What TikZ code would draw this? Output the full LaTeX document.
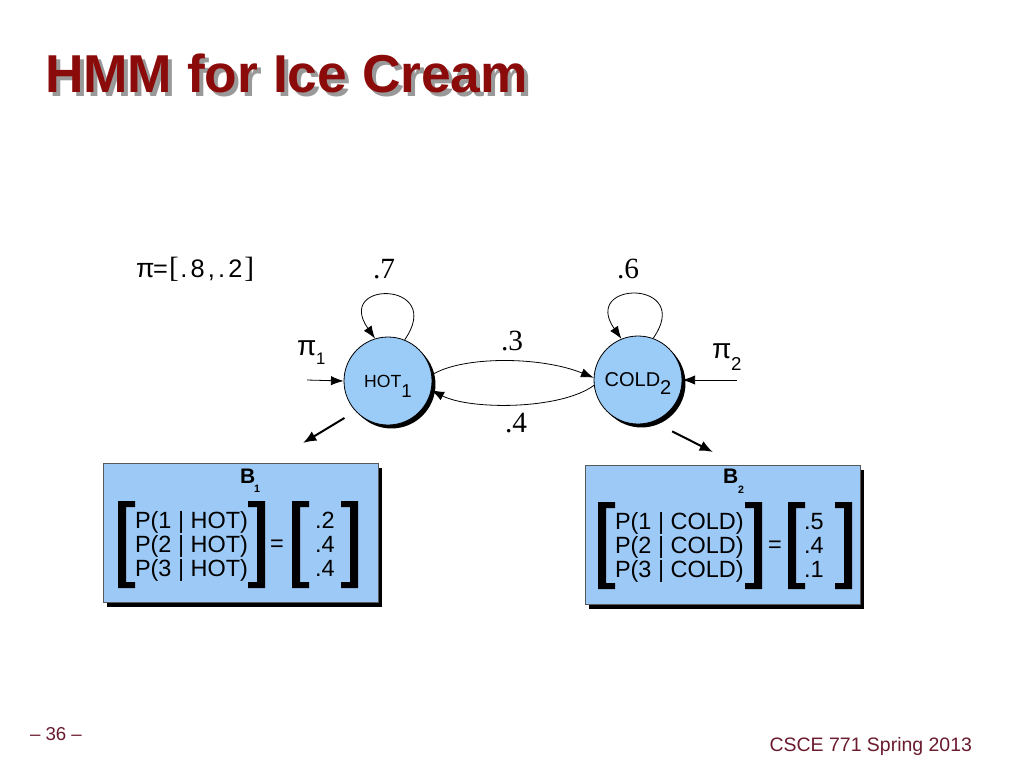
\documentclass[tikz,border=0pt]{standalone}
\usepackage{fontspec}
\setmainfont{Liberation Sans}
\newfontfamily\serifnum{Liberation Serif}
\usetikzlibrary{arrows.meta,shadows}
\definecolor{titlered}{HTML}{8B0A0A}
\definecolor{footred}{HTML}{6A1B2E}
\definecolor{nodeblue}{HTML}{9BCBF7}
\definecolor{boxblue}{HTML}{9CC9F5}
\newcommand{\fsz}[1]{\fontsize{#1}{#1}\selectfont}
\begin{document}
\begin{tikzpicture}[x=0.75pt,y=-0.75pt,
  txt/.style={inner sep=0pt, outer sep=0pt},
  state/.style={circle, draw=black, line width=0.6pt, fill=nodeblue, minimum size=66pt, inner sep=0pt, text depth=0pt,
     drop shadow={shadow xshift=2.6pt, shadow yshift=-2.6pt, fill=black, opacity=1}},
  bbox/.style={rectangle, draw=black!65, line width=0.5pt, fill=boxblue, minimum width=206.25pt, minimum height=104.5pt, inner sep=0pt,
     drop shadow={shadow xshift=3.2pt, shadow yshift=-3.6pt, fill=black, opacity=1}},
  arr/.style={-{Latex[length=9.5pt,width=7pt]}, line width=0.6pt},
  emit/.style={-{Latex[length=10pt,width=8pt]}, line width=1.5pt},
  ptxt/.style={txt, anchor=base west, font=\fsz{17.6pt}},
  vtxt/.style={txt, anchor=base, font=\fsz{17.6pt}},
  lbl/.style={txt, font=\serifnum\fsz{22pt}},
  lbr/.pic={\fill[black] (0,0) -- (17,0) -- (17,6) -- (8,6) -- (8,81) -- (17,81) -- (17,87) -- (0,87) -- cycle;},
  rbr/.pic={\fill[black] (0,0) -- (-17,0) -- (-17,6) -- (-8,6) -- (-8,81) -- (-17,81) -- (-17,87) -- (0,87) -- cycle;}
]
\useasboundingbox (0,0) rectangle (1024,768);
\fill[white] (0,0) rectangle (1024,768);

% title
\node[txt, anchor=base west, text=black!40, font=\fsz{40pt}\bfseries] (titleshadow) at (49,96) {HMM for Ice Cream};
\node[txt, anchor=base west, text=titlered, font=\fsz{40pt}\bfseries] (title) at (45,92) {HMM for Ice Cream};

% footer
\node[txt, anchor=base west, text=footred, font=\fsz{14pt}] (page) at (30,740) {– 36 –};
\node[txt, anchor=base east, text=footred, font=\fsz{14.6pt}] (course) at (972,751) {CSCE 771 Spring 2013};

% pi vector
\node[txt, anchor=base west, font=\fsz{19pt}] (pivec) at (136,277)
  {\fsz{20pt}π\fsz{19pt}\hspace{-1pt}=\hspace{1pt}{\serifnum\fsz{22pt}[}\hspace{1pt}.\hspace{2.4pt}8\hspace{2.4pt},\hspace{2.4pt}.\hspace{2.4pt}2\hspace{1.5pt}{\serifnum\fsz{22pt}]}};

% states
\node[state] (hot) at (388,381) {\fsz{13.2pt}HOT\raisebox{-7.5pt}{\fsz{14pt}1}};
\node[state] (cold) at (638,380) {\fsz{15pt}COLD\raisebox{-6pt}{\fsz{15pt}2}};

% self loops
\draw[arr] (hot.68) .. controls +(55:54pt) and +(125:54pt) .. (hot.107);
\draw[arr] (cold.70) .. controls +(55:54pt) and +(125:54pt) .. (cold.112);
\node[lbl] (p7) at (384,269) {.7};
\node[lbl] (p6) at (628,269) {.6};

% transitions
\draw[arr] (hot.8) .. controls (462,356) and (540,356) .. (cold.177);
\node[lbl] (p3) at (512,341) {.3};
\draw[arr] (cold.187) .. controls (560,410) and (470,410) .. (hot.348);
\node[lbl] (p4) at (516,423) {.4};

% initial arrows
\coordinate (pi1s) at (307,380);
\coordinate (pi2s) at (737,380);
\draw[arr] (pi1s) -- (hot.west);
\draw[arr] (pi2s) -- (cold.east);
\node[txt, anchor=base west, font=\fsz{21pt}] (pi1) at (297,355) {π};
\node[txt, anchor=base west, font=\fsz{12.5pt}] (pi1sub) at (316,364) {1};
\node[txt, anchor=base west, font=\fsz{21pt}] (pi2) at (712,358) {π};
\node[txt, anchor=base west, font=\fsz{14pt}] (pi2sub) at (731,370) {2};

% emission arrows
\coordinate (e1) at (303,443);
\coordinate (e2) at (713,452);
\draw[emit, shorten <=9.7pt] (hot.223.7) -- (e1);
\draw[emit, shorten <=15.9pt] (cold.290) -- (e2);

% B1 box
\node[bbox] (b1) at (240.5,532.5) {};
\node[txt, anchor=base west, font=\fsz{15.75pt}\bfseries] (b1t) at (240,483) {B};
\node[txt, anchor=base west, font=\fsz{8pt}\bfseries] (b1s) at (254,492) {1};
\pic at (118,501) {lbr};
\pic at (265,501) {rbr};
\pic at (292,501) {lbr};
\pic at (358,501) {rbr};
\node[ptxt] (h1) at (135,528) {P(1 | HOT)};
\node[ptxt] (h2) at (135,552) {P(2 | HOT)};
\node[ptxt] (h3) at (135,576) {P(3 | HOT)};
\node[txt, font=\fsz{17.6pt}] (eq1) at (277,546) {=};
\node[vtxt] (v11) at (325,528) {.2};
\node[vtxt] (v12) at (325,552) {.4};
\node[vtxt] (v13) at (325,576) {.4};

% B2 box
\node[bbox] (b2) at (722.5,535) {};
\node[txt, anchor=base west, font=\fsz{15.75pt}\bfseries] (b2t) at (723,483) {B};
\node[txt, anchor=base west, font=\fsz{8pt}\bfseries] (b2s) at (738,493) {2};
\pic at (598,502) {lbr};
\pic at (762,502) {rbr};
\pic at (788,502) {lbr};
\pic at (852,502) {rbr};
\node[ptxt] (c1) at (615,529) {P(1 | COLD)};
\node[ptxt] (c2) at (615,553) {P(2 | COLD)};
\node[ptxt] (c3) at (615,577) {P(3 | COLD)};
\node[txt, font=\fsz{17.6pt}] (eq2) at (775,547) {=};
\node[vtxt] (v21) at (814,529) {.5};
\node[vtxt] (v22) at (814,553) {.4};
\node[vtxt] (v23) at (814,577) {.1};
\end{tikzpicture}
\end{document}
